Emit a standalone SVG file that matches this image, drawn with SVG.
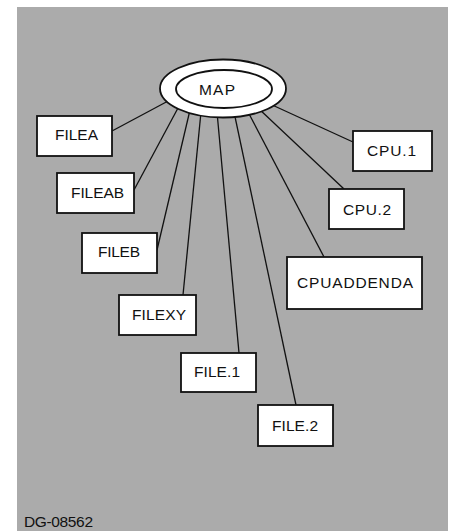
<svg xmlns="http://www.w3.org/2000/svg" width="454" height="531" viewBox="0 0 454 531">
<style>
.box{fill:#fff;stroke:#111;stroke-width:1.8}
.ell{fill:#fff;stroke:#111;stroke-width:1.8}
.lbl{font-family:"Liberation Sans",Arial,sans-serif;font-size:15.5px;fill:#111}
.conn line{stroke:#111;stroke-width:1.3}
</style>
<rect x="0" y="0" width="454" height="531" fill="#fff"/>
<rect x="17" y="7" width="431" height="524" fill="#ababab"/>
<g id="connectors" class="conn">
<line x1="170" y1="100" x2="112" y2="131"/>
<line x1="178" y1="108" x2="134" y2="190"/>
<line x1="190" y1="110" x2="157" y2="250"/>
<line x1="201" y1="112" x2="183" y2="295"/>
<line x1="217" y1="112" x2="239" y2="353"/>
<line x1="234" y1="112" x2="296" y2="405"/>
<line x1="247" y1="110" x2="324" y2="257"/>
<line x1="258" y1="108" x2="344" y2="189"/>
<line x1="270" y1="104" x2="353" y2="142"/>
</g>
<g id="MAP">
<ellipse class="ell" cx="223" cy="88.5" rx="63" ry="29"/>
<ellipse class="ell" cx="224" cy="89" rx="48" ry="19"/>
<text class="lbl" x="217" y="94.5" text-anchor="middle" font-size="17" textLength="36">MAP</text>
</g>
<g id="FILEA">
<rect class="box" x="37" y="116" width="75" height="40"/>
<text class="lbl" x="55" y="140" textLength="43">FILEA</text>
</g>
<g id="FILEAB">
<rect class="box" x="57" y="173" width="77" height="40"/>
<text class="lbl" x="71" y="198" textLength="53">FILEAB</text>
</g>
<g id="FILEB">
<rect class="box" x="82" y="233" width="75" height="40"/>
<text class="lbl" x="98" y="257" textLength="42">FILEB</text>
</g>
<g id="FILEXY">
<rect class="box" x="119" y="295" width="77" height="40"/>
<text class="lbl" x="132" y="320" textLength="54">FILEXY</text>
</g>
<g id="FILE.1">
<rect class="box" x="181" y="353" width="75" height="39"/>
<text class="lbl" x="194" y="377" textLength="46">FILE.1</text>
</g>
<g id="FILE.2">
<rect class="box" x="258" y="405" width="75" height="41"/>
<text class="lbl" x="272" y="431" textLength="46">FILE.2</text>
</g>
<g id="CPU.1">
<rect class="box" x="353" y="131" width="79" height="40"/>
<text class="lbl" x="367" y="156" textLength="49">CPU.1</text>
</g>
<g id="CPU.2">
<rect class="box" x="329" y="189" width="75" height="40"/>
<text class="lbl" x="343" y="215" textLength="48">CPU.2</text>
</g>
<g id="CPUADDENDA">
<rect class="box" x="287" y="257" width="135" height="52"/>
<text class="lbl" x="297" y="288" textLength="116">CPUADDENDA</text>
</g>
<text class="lbl" x="24" y="527" font-size="13" textLength="69">DG-08562</text>
</svg>
